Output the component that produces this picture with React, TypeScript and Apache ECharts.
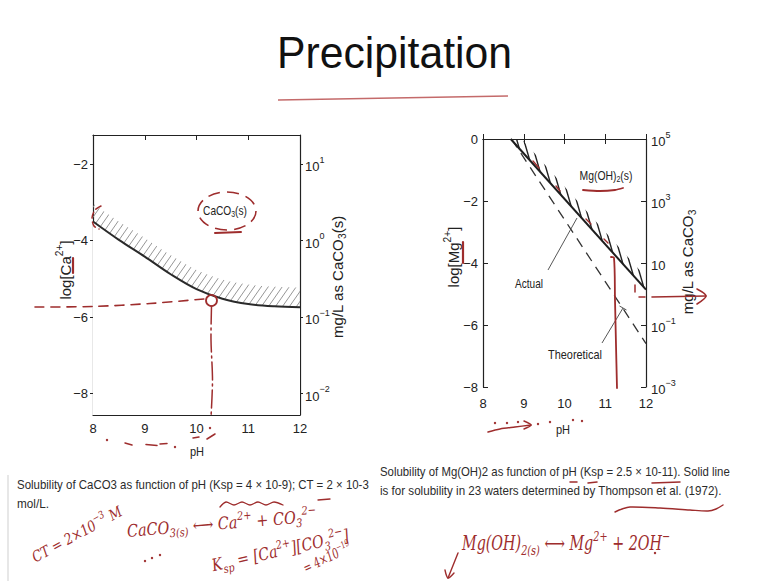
import React, { useEffect, useRef } from 'react';
import * as echarts from 'echarts';

// ---------- data ----------
const PH_TICKS = [8, 9, 10, 11, 12];

// Left panel: CaCO3 solubility
const CACO3_PH = [8, 8.5, 9, 9.5, 10, 10.5, 11, 11.5, 12];
const CACO3_LOG_CA = [-3.5, -3.98, -4.42, -4.88, -5.27, -5.52, -5.66, -5.72, -5.74];
const CACO3_HATCH_TOP = [-3.03, -3.5, -3.93, -4.38, -4.77, -5.02, -5.15, -5.21, -5.23];
const LEFT_Y_TICKS = [-8, -6, -4, -2];
const LEFT_R_EXP = ['−2', '−1', '0', '1'];

// Right panel: Mg(OH)2 solubility
const MG_ACTUAL_PH = [8.68, 12];
const MG_ACTUAL_LOG = [0, -4.86];
const MG_HATCH_PH = [8.68, 8.95, 12];
const MG_HATCH_TOP = [0, 0, -4.46];
const MG_THEORY_PH = [8.7, 12];
const MG_THEORY_LOG = [0, -6.6];
const RIGHT_Y_TICKS = [-8, -6, -4, -2, 0];
const RIGHT_R_EXP = ['−3', '−1', '', '3', '5'];

// ---------- styling ----------
const FONT = '"Liberation Sans", Arial, sans-serif';
const NARROW = '"Liberation Sans Narrow", "Liberation Sans", Arial, sans-serif';
const HAND = '"DejaVu Serif", serif';
const RED = '#9e2d2d';
const INK = '#222';

const pts = (xs: number[], ys: number[]) => xs.map((x, i) => [x, ys[i]]);

let mctx: CanvasRenderingContext2D | null = null;
function measure(text: string, size: number, family: string, style = 'normal') {
  if (!mctx) mctx = document.createElement('canvas').getContext('2d');
  if (!mctx) return text.length * size * 0.5;
  mctx.font = `${style} normal ${size}px ${family}`;
  return mctx.measureText(text).width;
}

type Tok = [string, 'n' | 'sup' | 'sub'];
function rt(
  tokens: Tok[],
  o: { x: number; y: number; size: number; family?: string; color?: string; italic?: boolean; width?: number; sx?: number; rot?: number; align?: string; z?: number }
) {
  const fam = o.family ?? FONT;
  const st = o.italic ? 'italic' : 'normal';
  const small = Math.round(o.size * 0.68 * 10) / 10;
  const color = o.color ?? INK;
  let w = 0;
  const text = tokens
    .map(([t, k]) => {
      w += measure(t, k === 'n' ? o.size : small, fam, st);
      return `{${k}|${t}}`;
    })
    .join('');
  const lh = Math.round(o.size * 1.4);
  const sx = o.width ? o.width / w : o.sx ?? 1;
  return {
    type: 'text',
    x: o.x,
    y: o.y,
    rotation: o.rot ?? 0,
    scaleX: sx,
    z: o.z ?? 60,
    silent: true,
    style: {
      text,
      align: o.align ?? 'left',
      verticalAlign: 'middle',
      fontSize: o.size,
      fontFamily: fam,
      fill: color,
      rich: {
        n: { fontSize: o.size, fontFamily: fam, fontStyle: st, fill: color, lineHeight: lh, verticalAlign: 'middle' },
        sup: { fontSize: small, fontFamily: fam, fontStyle: st, fill: color, lineHeight: small, verticalAlign: 'top' },
        sub: { fontSize: small, fontFamily: fam, fontStyle: st, fill: color, lineHeight: small, verticalAlign: 'bottom' },
      },
    },
  };
}

function plain(text: string, x: number, y: number, size: number, width: number, color = INK, align = 'left') {
  const sx = width / measure(text, size, FONT);
  return {
    type: 'text', x, y, scaleX: sx, z: 60, silent: true,
    style: { text, align, verticalAlign: 'middle', font: `${size}px ${FONT}`, fill: color },
  };
}

const redLine = (x1: number, y1: number, x2: number, y2: number, w = 1.8, dash?: number[]) => ({
  type: 'line', z: 70, silent: true,
  shape: { x1, y1, x2, y2 },
  style: { stroke: RED, lineWidth: w, lineDash: dash, lineCap: 'round' },
});
const redPoly = (p: number[][], w = 1.6, dash?: number[], color = RED) => ({
  type: 'polyline', z: 70, silent: true,
  shape: { points: p, smooth: 0.3 },
  style: { stroke: color, lineWidth: w, lineDash: dash, fill: 'none', lineCap: 'round', lineJoin: 'round' },
});
const dot = (cx: number, cy: number, r = 1.2) => ({
  type: 'circle', z: 70, silent: true, shape: { cx, cy, r }, style: { fill: RED },
});
const grayLine = (x1: number, y1: number, x2: number, y2: number) => ({
  type: 'line', z: 60, silent: true, shape: { x1, y1, x2, y2 }, style: { stroke: '#444', lineWidth: 0.9 },
});

function hatch(w: number, h: number, dir: '/' | '\\', color: string, lw: number) {
  const c = document.createElement('canvas');
  c.width = w;
  c.height = h;
  const g = c.getContext('2d')!;
  g.strokeStyle = color;
  g.lineWidth = lw;
  for (const k of [-1, 0, 1]) {
    g.beginPath();
    if (dir === '/') {
      g.moveTo(k * w - w, 2 * h);
      g.lineTo(k * w + 2 * w, -h);
    } else {
      g.moveTo(k * w - w, -h);
      g.lineTo(k * w + 2 * w, 2 * h);
    }
    g.stroke();
  }
  return { image: c, repeat: 'repeat', imageWidth: w, imageHeight: h };
}

const minus = (v: number) => (v < 0 ? '−' + Math.abs(v) : String(v));
const supRich = {
  b: { fontSize: 13, fontFamily: NARROW, color: INK, lineHeight: 18, verticalAlign: 'bottom' },
  s: { fontSize: 9, fontFamily: NARROW, color: INK, lineHeight: 9, verticalAlign: 'top' },
};
const powLabel = (ticks: number[], exps: string[]) => (v: number) => {
  const e = exps[ticks.indexOf(v)];
  return e ? `{b|10}{s|${e}}` : '{b|10}';
};

function buildOption() {
  const axisLine = { show: true, lineStyle: { color: INK, width: 1.2 } };
  const tickStyle = { color: INK, width: 1 };
  const lbl = { fontSize: 13, fontFamily: NARROW, color: INK };

  const xAxis = [0, 1].flatMap((g) => [
    {
      type: 'value', gridIndex: g, position: 'bottom', min: 8, max: 12, interval: 1,
      splitLine: { show: false }, axisLine,
      axisTick: { show: true, inside: true, length: 5, lineStyle: tickStyle },
      axisLabel: { ...lbl, margin: g === 0 ? 7 : 10, formatter: (v: number) => (PH_TICKS.includes(v) ? String(v) : '') },
    },
    {
      type: 'value', gridIndex: g, position: 'top', min: 8, max: 12, interval: 1,
      splitLine: { show: false }, axisLine,
      axisTick: { show: true, inside: true, length: 5, lineStyle: tickStyle },
      axisLabel: { show: false },
    },
  ]);

  const yAxis = [
    {
      type: 'value', gridIndex: 0, position: 'left', min: -8.56, max: -1.24,
      splitLine: { show: false }, axisLine,
      axisTick: { show: true, inside: false, length: 3, lineStyle: tickStyle, customValues: LEFT_Y_TICKS },
      axisLabel: { ...lbl, margin: 5, customValues: LEFT_Y_TICKS, formatter: minus },
    },
    {
      type: 'value', gridIndex: 0, position: 'right', min: -8.56, max: -1.24,
      splitLine: { show: false }, axisLine,
      axisTick: { show: true, inside: false, length: 3, lineStyle: tickStyle, customValues: LEFT_Y_TICKS },
      axisLabel: { ...lbl, margin: 5, customValues: LEFT_Y_TICKS, formatter: powLabel(LEFT_Y_TICKS, LEFT_R_EXP), rich: supRich },
    },
    {
      type: 'value', gridIndex: 1, position: 'left', min: -8, max: 0, interval: 2,
      splitLine: { show: false }, axisLine,
      axisTick: { show: true, inside: true, length: 5, lineStyle: tickStyle },
      axisLabel: { ...lbl, margin: 5, formatter: minus },
    },
    {
      type: 'value', gridIndex: 1, position: 'right', min: -8, max: 0, interval: 2,
      splitLine: { show: false }, axisLine,
      axisTick: { show: true, inside: true, length: 5, lineStyle: tickStyle },
      axisLabel: { ...lbl, margin: 5, formatter: powLabel(RIGHT_Y_TICKS, RIGHT_R_EXP), rich: supRich },
    },
  ];

  const rightHatch = hatch(7, 24, '\\', '#222', 1.4);
  const base = { type: 'line', symbol: 'none', showSymbol: false, silent: true, animation: false };
  const series = [
    // left panel: hatched region above the curve, white below it, then the curve
    { ...base, xAxisIndex: 0, yAxisIndex: 0, smooth: 0.35, data: pts(CACO3_PH, CACO3_HATCH_TOP),
      lineStyle: { width: 0, opacity: 0 }, areaStyle: { origin: 'start', opacity: 1, color: hatch(7, 10, '/', '#8a8a8a', 0.9) } },
    { ...base, xAxisIndex: 0, yAxisIndex: 0, smooth: 0.35, data: pts(CACO3_PH, CACO3_LOG_CA),
      lineStyle: { width: 0, opacity: 0 }, areaStyle: { origin: 'start', opacity: 1, color: '#ffffff' } },
    { ...base, xAxisIndex: 0, yAxisIndex: 0, smooth: 0.35, data: pts(CACO3_PH, CACO3_LOG_CA),
      lineStyle: { width: 2, color: '#2a2a2a' } },
    // right panel: hatched band between the actual line and its upper edge
    {
      type: 'custom', xAxisIndex: 2, yAxisIndex: 2, silent: true, z: 2,
      data: [[10, -4]],
      renderItem: (_p: any, api: any) => {
        const lower = MG_ACTUAL_PH.map((x, i) => api.coord([x, MG_ACTUAL_LOG[i]]));
        const upper = MG_HATCH_PH.map((x, i) => api.coord([x, MG_HATCH_TOP[i]])).reverse();
        return { type: 'polygon', shape: { points: [...lower, ...upper] }, style: { fill: rightHatch, stroke: null } };
      },
    },
    { ...base, xAxisIndex: 2, yAxisIndex: 2, z: 3, data: pts(MG_THEORY_PH, MG_THEORY_LOG),
      lineStyle: { width: 1.3, color: '#333', type: [10, 7] } },
    { ...base, xAxisIndex: 2, yAxisIndex: 2, z: 3, data: pts(MG_ACTUAL_PH, MG_ACTUAL_LOG),
      lineStyle: { width: 2, color: '#1e1e1e' } },
  ];

  const V = Math.PI / 2;
  const graphic = [
    // slide border line
    { type: 'line', z: 5, silent: true, shape: { x1: 8, y1: 475, x2: 8, y2: 581 }, style: { stroke: '#cfcfcf', lineWidth: 1 } },
    // title
    plain('Precipitation', 394.5, 52, 45, 235, '#111', 'center'),
    { type: 'bezierCurve', z: 70, silent: true, shape: { x1: 278, y1: 100, x2: 508, y2: 96, cpx1: 370, cpy1: 99, cpx2: 450, cpy2: 97 },
      style: { stroke: '#c46a6a', lineWidth: 1.5, fill: 'none' } },

    // captions
    plain('Solubility of CaCO3 as function of pH (Ksp = 4 × 10-9); CT = 2 × 10-3', 17, 485, 13, 352, '#2b2b2b'),
    plain('mol/L.', 17, 504, 13, 32, '#2b2b2b'),
    plain('Solubility of Mg(OH)2 as function of pH (Ksp = 2.5 × 10-11). Solid line', 380, 472, 13, 350, '#2b2b2b'),
    plain('is for solubility in 23 waters determined by Thompson et al. (1972).', 380, 491, 13, 342, '#2b2b2b'),

    // axis names, left panel
    rt([['log[Ca', 'n'], ['2+', 'sup'], [']', 'n']], { x: 65, y: 270, size: 15, rot: V, align: 'center' }),
    rt([['mg/L as CaCO', 'n'], ['3', 'sub'], ['(s)', 'n']], { x: 337, y: 277, size: 15, rot: V, align: 'center' }),
    rt([['pH', 'n']], { x: 197, y: 452, size: 13, sx: 0.85, align: 'center' }),
    rt([['CaCO', 'n'], ['3', 'sub'], ['(s)', 'n']], { x: 225, y: 210, size: 13, width: 44, align: 'center' }),

    // axis names, right panel
    rt([['log[Mg', 'n'], ['2+', 'sup'], [']', 'n']], { x: 453, y: 257, size: 15, rot: V, align: 'center' }),
    rt([['mg/L as CaCO', 'n'], ['3', 'sub']], { x: 687, y: 262, size: 15, rot: V, align: 'center' }),
    rt([['pH', 'n']], { x: 563, y: 430, size: 13, sx: 0.85, align: 'center' }),
    rt([['Mg(OH)', 'n'], ['2', 'sub'], ['(s)', 'n']], { x: 606, y: 175, size: 13, width: 53, align: 'center' }),
    rt([['Actual', 'n']], { x: 529, y: 283, size: 13, width: 28, align: 'center' }),
    rt([['Theoretical', 'n']], { x: 575, y: 355, size: 13, width: 54, align: 'center' }),
    grayLine(548, 270, 577, 218),
    grayLine(602, 343, 623, 308),
    grayLine(619.5, 306, 626.5, 310),

    // ---- red annotations, left panel ----
    { type: 'ellipse', z: 70, silent: true, shape: { cx: 227, cy: 211, rx: 29, ry: 19 },
      style: { stroke: RED, fill: 'none', lineWidth: 1.6, lineDash: [12, 7] } },
    redLine(215, 233, 241, 232, 2),
    redPoly([[101, 206], [95, 210], [92, 218], [94, 226], [99, 229]], 1.5, [6, 4]),
    redLine(73, 258, 73, 273, 2.2),
    redPoly([[35, 307], [93, 306.5], [150, 303.5], [204, 299]], 1.6, [9, 7]),
    { type: 'circle', z: 70, silent: true, shape: { cx: 211.5, cy: 300.5, r: 5.5 }, style: { stroke: RED, fill: 'none', lineWidth: 1.8 } },
    redPoly([[211.5, 306], [211, 340], [212.5, 380], [211, 417]], 1.5, [18, 4, 2, 4]),
    dot(210, 428),
    redLine(193, 438, 199, 437, 1.5),
    redLine(207, 439, 215, 434, 1.5),
    dot(107, 440),
    redLine(125, 443, 132, 445, 1.5),
    redLine(146, 444.5, 157, 445.5, 1.5),
    redLine(160, 444, 167, 443.5, 1.5),
    dot(175, 447),

    // handwriting under left caption
    redPoly([[220, 507], [226, 502], [234, 505], [242, 502], [250, 505], [258, 502], [266, 505], [274, 502], [283, 505]], 1.3),
    redLine(318, 500, 330, 499, 1.3),
    rt([['CT = 2×10', 'n'], ['−3', 'sup'], [' M', 'n']], { x: 33, y: 558, size: 15, family: HAND, italic: true, color: RED, width: 100, rot: 0.5 }),
    rt([['CaCO', 'n'], ['3(s)', 'sub'], [' ⟷ Ca', 'n'], ['2+', 'sup'], [' + CO', 'n'], ['3', 'sub'], ['2−', 'sup']],
      { x: 127, y: 531, size: 17, family: HAND, italic: true, color: RED, width: 190, rot: 0.08 }),
    rt([['K', 'n'], ['sp', 'sub'], [' = [Ca', 'n'], ['2+', 'sup'], ['][CO', 'n'], ['3', 'sub'], ['2−', 'sup'], [']', 'n']],
      { x: 212, y: 566, size: 17, family: HAND, italic: true, color: RED, width: 140, rot: 0.22 }),
    rt([['= 4×10', 'n'], ['−19', 'sup']], { x: 304, y: 569, size: 14, family: HAND, italic: true, color: RED, width: 52, rot: 0.45 }),
    dot(145, 561), dot(152, 558), dot(160, 555),

    // ---- red annotations, right panel ----
    redPoly([[583, 190], [600, 191], [615, 190], [623, 188]], 1.8),
    redPoly([[611, 257], [614, 258], [615, 300], [616, 345], [617, 388]], 1.8),
    redLine(533, 161, 539, 168, 1.4),
    redLine(556, 186, 560, 191, 1.4),
    redLine(586, 219, 591, 224, 1.4),
    redLine(604, 239, 608, 243, 1.4),
    redLine(463, 242, 463, 263, 2.2),
    redLine(635, 285, 635, 292, 1.5),
    redLine(639, 297, 645, 297, 1.5),
    redLine(652, 297, 706, 296, 1.6),
    redPoly([[697, 289], [706, 296], [697, 304]], 1.6),
    redPoly([[488, 432], [500, 429], [515, 427], [531, 425]], 1.5),
    redPoly([[524, 421], [531, 425], [524, 429]], 1.5),
    dot(495, 423), dot(507, 423), dot(518, 422), dot(538, 424), dot(550, 422), dot(573, 420), dot(582, 421),

    // right caption marks
    redLine(570, 482, 577, 482, 1.5),
    redLine(588, 483, 597, 482, 1.5),
    redLine(652, 483, 680, 482, 1.5),
    redPoly([[615, 512], [622, 509], [630, 507], [660, 508], [690, 510], [708, 511], [716, 509], [723, 505]], 1.4),
    rt([['Mg(OH)', 'n'], ['2(s)', 'sub'], [' ⟷ Mg', 'n'], ['2+', 'sup'], [' + 2OH', 'n'], ['−', 'sup']],
      { x: 462, y: 543, size: 20, family: HAND, italic: true, color: RED, width: 208 }),
    redLine(458, 553, 448, 578, 1.4),
    redPoly([[445, 570], [448, 578], [454, 573]], 1.4),
    dot(655, 553),
  ];

  return {
    animation: false,
    backgroundColor: '#ffffff',
    grid: [
      { left: 93, top: 135, width: 207, height: 280 },
      { left: 483, top: 139, width: 163, height: 248 },
    ],
    xAxis,
    yAxis,
    series,
    graphic,
  };
}

export default function App() {
  const ref = useRef<HTMLDivElement>(null);
  useEffect(() => {
    document.body.style.margin = '0';
    const chart = echarts.init(ref.current!, null, { renderer: 'svg' });
    chart.setOption(buildOption() as any);
    return () => chart.dispose();
  }, []);
  return (
    <div
      ref={ref}
      style={{ position: 'absolute', left: 0, top: 0, width: 764, height: 581, background: '#fff' }}
    />
  );
}
